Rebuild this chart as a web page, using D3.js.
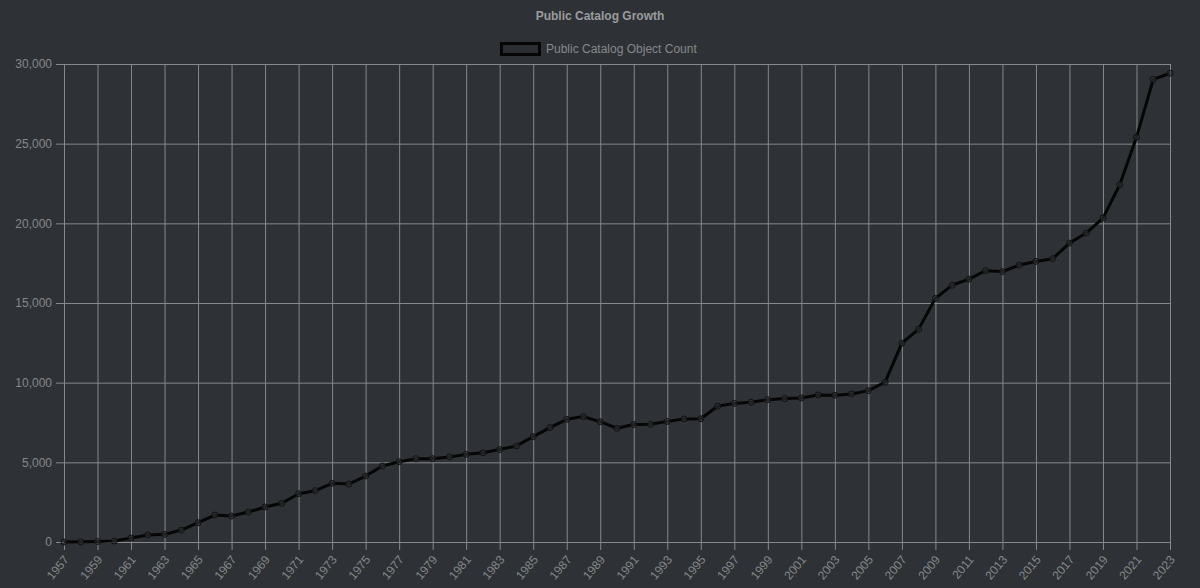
<!DOCTYPE html>
<html>
<head>
<meta charset="utf-8">
<script src="https://cdn.jsdelivr.net/npm/d3@7/dist/d3.min.js"></script>
<style>
html,body{margin:0;padding:0;background:#2e3236;}
svg{display:block;}
</style>
</head>
<body>
<svg id="chart" width="1200" height="588"></svg>
<script>
const chartTitle = "Public Catalog Growth";
const seriesName = "Public Catalog Object Count";
const years = [1957,1958,1959,1960,1961,1962,1963,1964,1965,1966,1967,1968,1969,1970,
  1971,1972,1973,1974,1975,1976,1977,1978,1979,1980,1981,1982,1983,1984,1985,1986,1987,
  1988,1989,1990,1991,1992,1993,1994,1995,1996,1997,1998,1999,2000,2001,2002,2003,2004,
  2005,2006,2007,2008,2009,2010,2011,2012,2013,2014,2015,2016,2017,2018,2019,2020,2021,2022,2023];
const counts = [0,10,30,60,250,440,480,750,1210,1690,1630,1880,2200,2430,
  3030,3220,3680,3640,4140,4770,5040,5230,5230,5340,5500,5600,5800,6030,6610,7180,7700,
  7870,7550,7140,7370,7390,7570,7720,7740,8520,8700,8770,8930,9000,9040,9230,9210,9290,
  9500,10030,12480,13360,15290,16120,16500,17030,16970,17380,17610,17780,18760,19390,20330,22420,25400,29040,29420];
const yTicks = [0,5000,10000,15000,20000,25000,30000];
const xTickLabels = years.filter((y,i)=>i%2===0);

(function(){
const svg = d3.select("#chart");
const mLeft = 64, mRight = 1170, mTop = 64, mBottom = 542;
const font = "'Liberation Sans', Arial, sans-serif";
const gridColor = "#85888c";
const textColor = "#85888b";

const x = d3.scalePoint().domain(years).range([mLeft, mRight]);
const y = d3.scaleLinear().domain([0, 30000]).range([mBottom, mTop]);

// title
svg.append("text").attr("x", 600).attr("y", 20).attr("text-anchor","middle")
  .attr("font-family", font).attr("font-size", 12).attr("font-weight","bold")
  .attr("fill", "#9a9c9e").text(chartTitle);

// legend
svg.append("rect").attr("x", 501.5).attr("y", 43.5).attr("width", 38).attr("height", 11)
  .attr("fill", "#2a2d31").attr("stroke", "#050505").attr("stroke-width", 3);
svg.append("text").attr("x", 546).attr("y", 53).attr("font-family", font).attr("font-size", 12)
  .attr("fill", textColor).text(seriesName);

// y grid + axis
const yAxis = d3.axisLeft(y).tickValues(yTicks).tickSize(-(mRight-mLeft)).tickPadding(12)
  .tickFormat(d3.format(","));
const gy = svg.append("g").attr("transform", `translate(${mLeft},0)`).call(yAxis);
gy.select(".domain").remove();
gy.selectAll(".tick line").attr("stroke", gridColor).attr("x1", -8).attr("stroke-width", 1);
gy.selectAll(".tick text").attr("fill", textColor).attr("font-family", font).attr("font-size", 12);

// x grid + axis
const xAxis = d3.axisBottom(x).tickValues(xTickLabels).tickSize(-(mBottom-mTop)).tickPadding(0);
const gx = svg.append("g").attr("transform", `translate(0,${mBottom})`).call(xAxis);
gx.select(".domain").remove();
gx.selectAll(".tick line").attr("stroke", gridColor).attr("y1", 8).attr("stroke-width", 1);
gx.selectAll(".tick text").attr("fill", textColor).attr("font-family", font).attr("font-size", 12)
  .attr("text-anchor", "end").attr("dy", null).attr("y", null)
  .attr("transform", "translate(5,18) rotate(-50)");

// line
const data = years.map((yr,i)=>({year:yr, value:counts[i]}));
const line = d3.line().x(d=>x(d.year)).y(d=>y(d.value));
svg.append("path").datum(data).attr("d", line).attr("fill","none")
  .attr("stroke", "#060606").attr("stroke-width", 3).attr("stroke-linejoin","round");

svg.append("g").selectAll("circle").data(data).join("circle")
  .attr("cx", d=>x(d.year)).attr("cy", d=>y(d.value)).attr("r", 3)
  .attr("fill", "rgba(46,50,54,0.6)").attr("stroke", "#111").attr("stroke-width", 1);
})();
</script>
</body>
</html>
